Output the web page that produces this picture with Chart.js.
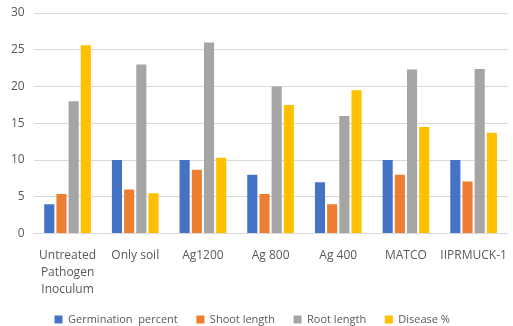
<!DOCTYPE html>
<html>
<head>
<meta charset="utf-8">
<script src="https://cdn.jsdelivr.net/npm/chart.js@4"></script>
<style>
  html, body { margin: 0; padding: 0; background: #fff; }
  #wrap { width: 513px; height: 326px; }
</style>
</head>
<body>
<div id="wrap"><canvas id="chart" width="513" height="326"></canvas></div>
<script>
const categories = [
  ['Untreated', 'Pathogen', 'Inoculum'],
  'Only soil', 'Ag1200', 'Ag 800', 'Ag 400', 'MATCO', 'IIPRMUCK-1'
];
const germination = [4, 10, 10, 8, 7, 10, 10];
const shootLength = [5.4, 6, 8.7, 5.4, 4, 8, 7.1];
const rootLength = [18, 23, 26, 20, 16, 22.3, 22.4];
const disease = [25.6, 5.5, 10.3, 17.5, 19.5, 14.5, 13.7];
const yTicks = [0, 5, 10, 15, 20, 25, 30];

const font = { family: 'Open Sans', size: 12, lineHeight: 1.4 };

new Chart(document.getElementById('chart').getContext('2d'), {
  type: 'bar',
  data: {
    labels: categories,
    datasets: [
      { label: 'Germination  percent', data: germination, backgroundColor: '#4472C4' },
      { label: 'Shoot length', data: shootLength, backgroundColor: '#ED7D31' },
      { label: 'Root length', data: rootLength, backgroundColor: '#A5A5A5' },
      { label: 'Disease %', data: disease, backgroundColor: '#FFC000' }
    ]
  },
  options: {
    responsive: false,
    animation: false,
    maintainAspectRatio: false,
    layout: { padding: { top: 13, right: 2, left: 2, bottom: -9 } },
    datasets: { bar: { categoryPercentage: 0.72, barPercentage: 0.83 } },
    scales: {
      x: {
        grid: { display: false },
        border: { color: '#d9d9d9' },
        ticks: { color: '#595959', font: font, maxRotation: 0, autoSkip: false, padding: 6 }
      },
      y: {
        min: 0,
        max: 30,
        afterBuildTicks: axis => { axis.ticks = yTicks.map(v => ({ value: v })); },
        afterFit: axis => { axis.paddingTop = 0; },
        grid: { color: '#d9d9d9', drawTicks: false },
        border: { display: false },
        ticks: { color: '#595959', font: font, padding: 9 }
      }
    },
    plugins: {
      legend: {
        position: 'bottom',
        labels: {
          color: '#595959',
          font: { family: 'Open Sans', size: 11 },
          boxWidth: 8,
          boxHeight: 8,
          padding: 10,
          // a little extra room after each item, like the original legend
          generateLabels: chart => Chart.defaults.plugins.legend.labels.generateLabels(chart)
            .map(item => ({ ...item, text: item.text + '   ' }))
        }
      },
      tooltip: { enabled: false }
    }
  }
});
</script>
</body>
</html>
